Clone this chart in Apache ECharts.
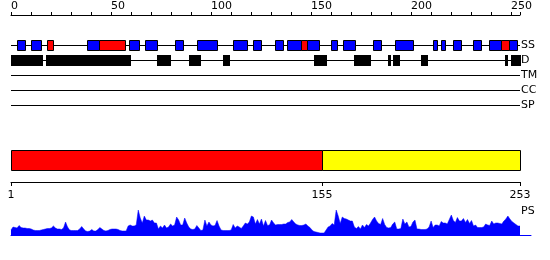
<!DOCTYPE html>
<html><head><meta charset="utf-8">
<script src="https://cdn.jsdelivr.net/npm/echarts@6/dist/echarts.min.js"></script>
<style>html,body{margin:0;padding:0;background:#fff}#c{width:550px;height:260px}</style>
</head><body><div id="c"></div>
<script>
// ---- data ----
const topTickLabels = [0, 50, 100, 150, 200, 250];
const trackNames = ['SS', 'D', 'TM', 'CC', 'SP'];
const ssStrands = [[3,7],[10,15],[38,44],[59,64],[67,73],[82,86],[93,103],[111,118],[121,125],[132,136],[138,145],[148,154],[160,163],[166,172],[181,185],[192,201],[211,213],[215,217],[221,225],[231,235],[239,245],[249,253]];
const ssHelices = [[18,21],[44,57],[145,148],[245,249]];
const disorder = [[0,16],[17.5,60],[73,80],[89,95],[106,109.5],[151.7,158],[171.7,180],[188.5,190],[191,194.3],[205,208.3],[247,248.3],[250,254.8]];
const domainBounds = [1, 155, 253];
const psLabel = 'PS';
const psValues = [
 5,8,7.5,7,9.5,7.5,7,7,6.5,6.5,
 6,5,4.5,4.5,4.5,5,5.5,6,6.5,6.5,
 7,9,7,6,6,5.5,7,13,8,5,
 4.5,4.5,4.5,4.5,6,8.5,6,4,3.5,4,
 5.5,4,4,5.5,7.5,6,4.5,4,4.5,5.5,
 6,6,6,5.5,4.5,4,4,4,9,10,
 9,9,10,25,17,12,19,15,15,14,
 15,12,12,6,9,7,10,7,8,11,
 9,10,18,15,10,10,17,12,8,6,
 5.5,6,9.5,7,4.5,5,15,9,13,10,
 9,9.5,14.5,9,5,4.5,4.5,4.5,4.5,5,
 10.5,7,9,8,6.5,9,12,11,13,19,
 18,11,15.5,11,16,9,14.5,9.5,10,15,
 12,10,10.5,10.5,10.5,11,11,12.5,13,15.5,
 13,11,10,9.5,9.5,10,11,9,7.5,5,
 3.5,3,2.5,2,2,2,5,8,9,11.5,
 10,25,19,11.5,18,16.5,16,15,14,14,
 8,6.5,8.5,6,10,7.5,10.5,9,12,15.5,
 18,14,11.5,10.5,16.5,10.5,7.5,7,7.5,11,
 13,6,6,6.5,16,11,13,8,8.5,13,
 15,6,6,5.5,5.5,5.5,6,8,14,7.5,
 10,10,9,13.5,12,12,11,15.5,20,14.5,
 12.5,17.5,14,14,16.5,12.5,15.5,11.5,14.5,9,
 10,7.5,7.5,7.5,8,11,10,9.5,14,11,
 12,12,11.5,11,14,16,19,16,13.5,12,
 10.5,9,9
];

// ---- styles / layout ----
const FONT = '11px "DejaVu Sans"';
const TOP_MAX = 254.5;
const BAR_W = 509;
const PS_MAX = 1 + 520 / (BAR_W / 252);
const TRACK_Y = {SS: 30.5, D: 45.5, TM: 60.5, CC: 75.5, SP: 90.5};
const domainColors = ['#ff0000', '#ffff00'];
const BLUE = '#0000ff';

function ssBox(fill) {
  return function (p, api) {
    const a = api.coord([api.value(0), TRACK_Y.SS]);
    const b = api.coord([api.value(1), TRACK_Y.SS]);
    const x0 = Math.round(a[0]), x1 = Math.round(b[0]);
    const top = Math.floor(a[1] - 5);
    return {type: 'rect', shape: {x: x0 + 0.5, y: top + 0.5, width: x1 - x0, height: 10},
      style: {fill: fill, stroke: '#000', lineWidth: 1}};
  };
}

const chart = echarts.init(document.getElementById('c'), null, {renderer: 'canvas', width: 550, height: 260});
const option = {
  animation: false,
  backgroundColor: '#fff',
  grid: [
    {left: 11, top: 15, width: 509, height: 100},
    {left: 11, top: 140, width: BAR_W, height: 42},
    {left: 11, top: 205, width: 520, height: 30}
  ],
  xAxis: [
    {gridIndex: 0, type: 'value', position: 'top', min: 0, max: TOP_MAX, interval: 10,
      axisLine: {onZero: false, lineStyle: {color: '#000', width: 1}},
      axisTick: {length: 3, lineStyle: {color: '#000'}},
      axisLabel: {formatter: v => topTickLabels.includes(v) ? String(v) : '', align: 'left', margin: 3,
        fontSize: 11, fontFamily: 'DejaVu Sans', color: '#000', showMinLabel: true, showMaxLabel: true, hideOverlap: false},
      splitLine: {show: false}},
    {gridIndex: 1, type: 'value', min: 1, max: 253,
      axisLine: {onZero: false, lineStyle: {color: '#000', width: 1}},
      axisTick: {customValues: domainBounds, length: 4, lineStyle: {color: '#000'}},
      axisLabel: {customValues: domainBounds, margin: 8, fontSize: 11, fontFamily: 'DejaVu Sans', color: '#000'},
      splitLine: {show: false}},
    {gridIndex: 2, type: 'value', min: 1, max: PS_MAX,
      axisLine: {onZero: false, lineStyle: {color: BLUE, width: 1}},
      axisTick: {show: false}, axisLabel: {show: false}, splitLine: {show: false}}
  ],
  yAxis: [
    {gridIndex: 0, type: 'value', min: 0, max: 100, inverse: true, show: false},
    {gridIndex: 1, type: 'value', min: 0, max: 42, inverse: true, show: false},
    {gridIndex: 2, type: 'value', min: 0, max: 30, show: false}
  ],
  series: [
    {type: 'custom', xAxisIndex: 0, yAxisIndex: 0, silent: true, clip: false,
      data: trackNames.map((n, i) => [i]),
      renderItem: function (p, api) {
        const name = trackNames[p.dataIndex];
        const y = TRACK_Y[name];
        const a = api.coord([0, y]), b = api.coord([TOP_MAX, y]);
        return {type: 'group', children: [
          {type: 'line', shape: {x1: a[0], y1: a[1], x2: b[0], y2: b[1]}, style: {stroke: '#000', lineWidth: 1}},
          {type: 'text', x: b[0] + 1, y: a[1], style: {text: name, fill: '#000', font: FONT, verticalAlign: 'middle', align: 'left'}}
        ]};
      }},
    {type: 'custom', xAxisIndex: 0, yAxisIndex: 0, silent: true, clip: false,
      data: ssStrands, renderItem: ssBox(BLUE)},
    {type: 'custom', xAxisIndex: 0, yAxisIndex: 0, silent: true, clip: false,
      data: ssHelices, renderItem: ssBox('#ff0000')},
    {type: 'custom', xAxisIndex: 0, yAxisIndex: 0, silent: true, clip: false,
      data: disorder,
      renderItem: function (p, api) {
        const a = api.coord([api.value(0), TRACK_Y.D]);
        const b = api.coord([api.value(1), TRACK_Y.D]);
        const x0 = Math.round(a[0]), x1 = Math.round(b[0]);
        return {type: 'rect', shape: {x: x0, y: Math.floor(a[1]) - 5, width: Math.max(1, x1 - x0), height: 11},
          style: {fill: '#000'}};
      }},
    {type: 'custom', xAxisIndex: 1, yAxisIndex: 1, silent: true, clip: false,
      data: domainBounds.slice(0, -1).map((s, i) => [s, domainBounds[i + 1]]),
      renderItem: function (p, api) {
        const a = api.coord([api.value(0), 10.5]);
        const b = api.coord([api.value(1), 30.5]);
        const x0 = Math.round(a[0]), x1 = Math.round(b[0]);
        return {type: 'rect', shape: {x: x0 + 0.5, y: a[1], width: x1 - x0, height: b[1] - a[1]},
          style: {fill: domainColors[p.dataIndex], stroke: '#000', lineWidth: 1}};
      }},
    {type: 'line', xAxisIndex: 2, yAxisIndex: 2, silent: true,
      data: psValues.map((v, i) => [i + 1, v]),
      showSymbol: false, symbol: 'none',
      lineStyle: {color: BLUE, width: 0.5},
      areaStyle: {color: BLUE, opacity: 1}}
  ],
  graphic: [
    {type: 'text', left: 521, top: 206, silent: true, style: {text: psLabel, font: FONT, fill: '#000'}}
  ]
};
chart.setOption(option);
</script>
</body></html>
